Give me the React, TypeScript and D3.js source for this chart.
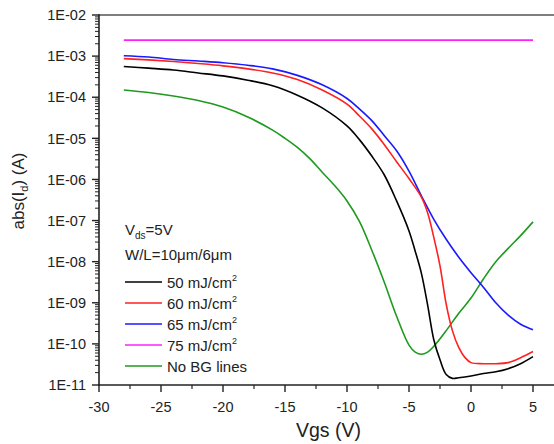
import React from "react";
import * as d3 from "d3";

// ---- data ----
const xTicks = [-30, -25, -20, -15, -10, -5, 0, 5];
const xMinorTicks = [-27.5, -22.5, -17.5, -12.5, -7.5, -2.5, 2.5];
const yTickExponents = [-11, -10, -9, -8, -7, -6, -5, -4, -3, -2];
const yTickLabels = ["1E-11", "1E-10", "1E-09", "1E-08", "1E-07", "1E-06", "1E-05", "1E-04", "1E-03", "1E-02"];

const vgs50 = [-28, -26, -24, -22, -20, -18, -16, -14, -12, -10, -9, -8, -7, -6, -5, -4.5, -4, -3.5, -3, -2.5, -2, -1.5, -1, 0, 1, 2, 3, 4, 5];
const id50 = [5.6e-4, 5.1e-4, 4.6e-4, 3.9e-4, 3.3e-4, 2.6e-4, 1.9e-4, 1.12e-4, 5.5e-5, 2.0e-5, 9.3e-6, 3.7e-6, 1.3e-6, 3.0e-7, 5.6e-8, 1.8e-8, 5.2e-9, 8.9e-10, 1.26e-10, 4.1e-11, 1.8e-11, 1.45e-11, 1.5e-11, 1.66e-11, 1.9e-11, 2.1e-11, 2.5e-11, 3.3e-11, 4.9e-11];

const vgs60 = [-28, -26, -24, -22, -20, -18, -16, -14, -12, -10, -9, -8, -7, -6, -5, -4, -3.5, -3, -2.5, -2, -1.5, -1, -0.5, 0, 1, 2, 3, 4, 5];
const id60 = [8.7e-4, 8.1e-4, 7.4e-4, 6.6e-4, 5.8e-4, 4.9e-4, 3.9e-4, 2.7e-4, 1.5e-4, 6.8e-5, 3.5e-5, 1.7e-5, 7.1e-6, 2.7e-6, 1.05e-6, 3.7e-7, 1.55e-7, 3.9e-8, 7.9e-9, 9.3e-10, 2.1e-10, 8.3e-11, 4.7e-11, 3.5e-11, 3.3e-11, 3.3e-11, 3.5e-11, 4.6e-11, 6.5e-11];

const vgs65 = [-28, -26, -24, -22, -20, -18, -16, -14, -12, -10, -9, -8, -7, -6, -5, -4, -3, -2, -1, 0, 1, 2, 3, 4, 5];
const id65 = [1.02e-3, 9.5e-4, 8.3e-4, 7.6e-4, 6.9e-4, 6.0e-4, 4.9e-4, 3.4e-4, 2.0e-4, 9.3e-5, 5.2e-5, 2.7e-5, 1.17e-5, 5.0e-6, 1.6e-6, 4.0e-7, 1.07e-7, 3.5e-8, 1.3e-8, 5.4e-9, 2.4e-9, 1.0e-9, 5.0e-10, 3.0e-10, 2.2e-10];

const vgs75 = [-28, -20, -10, 0, 5];
const id75 = [2.45e-3, 2.45e-3, 2.45e-3, 2.45e-3, 2.45e-3];

const vgsNoBG = [-28, -26, -24, -22, -20, -18, -16, -15, -14, -13, -12, -11, -10, -9, -8, -7, -6, -5, -4.5, -4, -3.5, -3, -2, -1, 0, 1, 2, 3, 4, 5];
const idNoBG = [1.5e-4, 1.3e-4, 1.07e-4, 8.3e-5, 5.75e-5, 3.3e-5, 1.58e-5, 1.0e-5, 6.0e-6, 3.2e-6, 1.5e-6, 7.1e-7, 3.0e-7, 9.5e-8, 1.9e-8, 3.2e-9, 4.7e-10, 9.3e-11, 6.3e-11, 5.6e-11, 6.3e-11, 8.7e-11, 2.1e-10, 5.5e-10, 1.3e-9, 3.8e-9, 1.0e-8, 2.1e-8, 4.3e-8, 9.3e-8];

const seriesNames = ["50 mJ/cm", "60 mJ/cm", "65 mJ/cm", "75 mJ/cm", "No BG lines"];
const seriesSup = ["2", "2", "2", "2", ""];
const seriesColors = ["#000000", "#ff2020", "#1a1aff", "#ff20ff", "#1f9a1f"];
const seriesX = [vgs50, vgs60, vgs65, vgs75, vgsNoBG];
const seriesY = [id50, id60, id65, id75, idNoBG];
const drawOrder = [3, 4, 2, 1, 0];

const FONT = "'Liberation Sans', Arial, sans-serif";

export default function App() {
  const left = 99, right = 557.8, top = 15, bottom = 385;
  const x = d3.scaleLinear().domain([-30, 7]).range([left, right]);
  const y = d3.scaleLog().domain([1e-11, 1e-2]).range([bottom, top]);

  const line = d3
    .line<[number, number]>()
    .x((d) => x(d[0]))
    .y((d) => y(d[1]))
    .curve(d3.curveCatmullRom.alpha(0.5));

  const yMinor: number[] = [];
  for (let e = -11; e < -2; e++) {
    for (let k = 2; k <= 9; k++) yMinor.push(k * Math.pow(10, e));
  }

  const axisColor = "#222";

  return (
    <svg
      width={554}
      height={444}
      style={{ position: "absolute", left: 0, top: 0, background: "#fff" }}
      fontFamily={FONT}
    >
      <rect x={0} y={0} width={554} height={444} fill="#fff" />
      {/* curves */}
      {drawOrder.map((i) => (
        <path
          key={i}
          d={line(seriesX[i].map((v, j) => [v, seriesY[i][j]] as [number, number])) || ""}
          fill="none"
          stroke={seriesColors[i]}
          strokeWidth={1.6}
        />
      ))}

      {/* frame */}
      <line x1={left} x2={right} y1={top} y2={top} stroke="#555" strokeWidth={1.6} />
      <line x1={right} x2={right} y1={top} y2={bottom} stroke="#555" strokeWidth={1.6} />
      <line x1={left} x2={left} y1={top - 0.8} y2={bottom + 0.8} stroke={axisColor} strokeWidth={1.6} />
      <line x1={left - 0.8} x2={right} y1={bottom} y2={bottom} stroke={axisColor} strokeWidth={1.6} />

      {/* x ticks */}
      {xTicks.map((t) => (
        <g key={"xt" + t}>
          <line x1={x(t)} x2={x(t)} y1={bottom} y2={bottom + 7} stroke={axisColor} strokeWidth={1.4} />
          <text x={x(t)} y={411.5} textAnchor="middle" fontSize={14.5} fill="#222">
            {t}
          </text>
        </g>
      ))}
      {xMinorTicks.map((t) => (
        <line key={"xm" + t} x1={x(t)} x2={x(t)} y1={bottom} y2={bottom + 4} stroke={axisColor} strokeWidth={1.2} />
      ))}

      {/* y ticks */}
      {yTickExponents.map((e, i) => {
        const v = Math.pow(10, e);
        return (
          <g key={"yt" + e}>
            <line x1={left - 7} x2={left} y1={y(v)} y2={y(v)} stroke={axisColor} strokeWidth={1.4} />
            <text x={86} y={y(v) + 5.2} textAnchor="end" fontSize={14.5} fill="#222">
              {yTickLabels[i]}
            </text>
          </g>
        );
      })}
      {yMinor.map((v, i) => (
        <line key={"ym" + i} x1={left - 4} x2={left} y1={y(v)} y2={y(v)} stroke={axisColor} strokeWidth={1} />
      ))}

      {/* axis titles */}
      <text x={(left + right) / 2} y={437} textAnchor="middle" fontSize={19.5} fill="#222">
        Vgs (V)
      </text>
      <text transform="translate(24,191) rotate(-90)" textAnchor="middle" fontSize={17} fill="#222">
        abs(I
        <tspan fontSize={11} dy={4}>d</tspan>
        <tspan dy={-4}>) (A)</tspan>
      </text>

      {/* annotations */}
      <text x={125} y={235} fontSize={15} fill="#222">
        V<tspan fontSize={10} dy={4}>ds</tspan>
        <tspan dy={-4}>=5V</tspan>
      </text>
      <text x={125} y={260} fontSize={15} fill="#222">
        W/L=10μm/6μm
      </text>

      {/* legend */}
      {seriesNames.map((name, i) => {
        const ly = 282 + i * 21;
        return (
          <g key={"lg" + i}>
            <line x1={125} x2={162} y1={ly} y2={ly} stroke={seriesColors[i]} strokeWidth={1.6} />
            <text x={167} y={ly + 5.5} fontSize={15} fill="#222">
              {name}
              {seriesSup[i] && (
                <tspan fontSize={9} dy={-7}>
                  {seriesSup[i]}
                </tspan>
              )}
            </text>
          </g>
        );
      })}
    </svg>
  );
}
